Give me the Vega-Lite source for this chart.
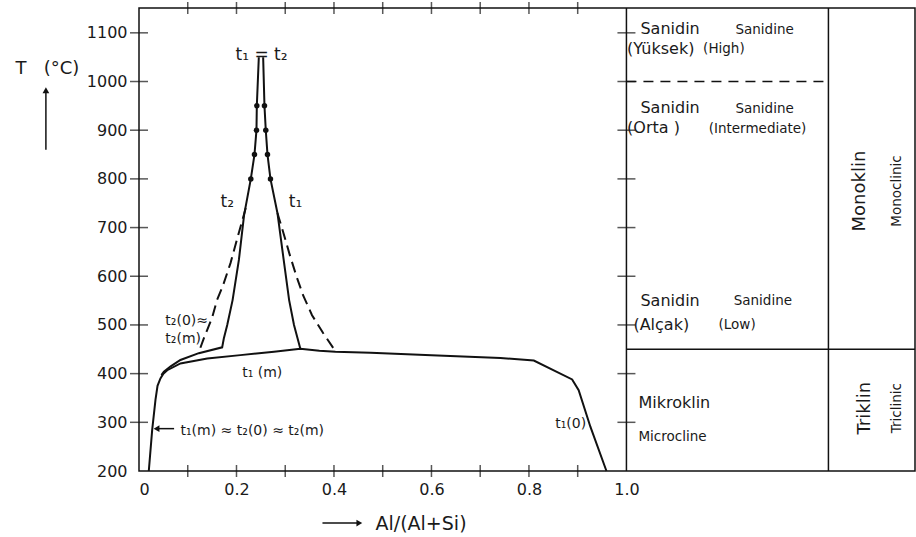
{
  "$schema": "https://vega.github.io/schema/vega-lite/v6.json",
  "width": 776,
  "height": 463,
  "autosize": {"type": "none"},
  "padding": {"left": 139, "top": 8, "right": 1, "bottom": 66},
  "background": "white",
  "config": {
    "view": {"stroke": "#111", "strokeWidth": 1.5},
    "font": "DejaVu Sans",
    "axis": {"grid": false, "ticks": false, "domain": false, "labelColor": "#1a1a1a", "titleColor": "#1a1a1a", "labelFont": "DejaVu Sans", "titleFont": "DejaVu Sans", "titleFontWeight": "normal"}
  },
  "datasets": {
    "frameSolid": [
      {"x": 1.0, "T": 200, "x2": 1.0, "T2": 1151},
      {"x": 1.4144, "T": 200, "x2": 1.4144, "T2": 1151},
      {"x": 1.0, "T": 450, "x2": 1.592, "T2": 450}
    ],
    "frameDashed": [
      {"x": 1.0, "T": 1000, "x2": 1.4144, "T2": 1000}
    ],
    "yTicks": [
      {"x": 0, "T": 300}, {"x": 0, "T": 400}, {"x": 0, "T": 500}, {"x": 0, "T": 600}, {"x": 0, "T": 700}, {"x": 0, "T": 800}, {"x": 0, "T": 900}, {"x": 0, "T": 1000}, {"x": 0, "T": 1100},
      {"x": 1, "T": 300}, {"x": 1, "T": 400}, {"x": 1, "T": 500}, {"x": 1, "T": 600}, {"x": 1, "T": 700}, {"x": 1, "T": 800}, {"x": 1, "T": 900}, {"x": 1, "T": 1000}, {"x": 1, "T": 1100}
    ],
    "xTicks": [
      {"x": 0.1, "T": 200}, {"x": 0.2, "T": 200}, {"x": 0.3, "T": 200}, {"x": 0.4, "T": 200}, {"x": 0.5, "T": 200}, {"x": 0.6, "T": 200}, {"x": 0.7, "T": 200}, {"x": 0.8, "T": 200}, {"x": 0.9, "T": 200},
      {"x": 0.1, "T": 1151}, {"x": 0.2, "T": 1151}, {"x": 0.3, "T": 1151}, {"x": 0.4, "T": 1151}, {"x": 0.5, "T": 1151}, {"x": 0.6, "T": 1151}, {"x": 0.7, "T": 1151}, {"x": 0.8, "T": 1151}, {"x": 0.9, "T": 1151}
    ],
    "solid": [
      {"s": "t2", "o": 1, "x": 0.2458, "T": 1050},
      {"s": "t2", "o": 2, "x": 0.2417, "T": 950},
      {"s": "t2", "o": 3, "x": 0.2410, "T": 900},
      {"s": "t2", "o": 4, "x": 0.2369, "T": 850},
      {"s": "t2", "o": 5, "x": 0.2294, "T": 800},
      {"s": "t2", "o": 6, "x": 0.2155, "T": 725},
      {"s": "t2", "o": 7, "x": 0.2050, "T": 634},
      {"s": "t2", "o": 8, "x": 0.1920, "T": 551},
      {"s": "t2", "o": 9, "x": 0.1810, "T": 500},
      {"s": "t2", "o": 10, "x": 0.1740, "T": 472},
      {"s": "t2", "o": 11, "x": 0.1706, "T": 454},
      {"s": "t2", "o": 12, "x": 0.1227, "T": 442},
      {"s": "t2", "o": 13, "x": 0.0850, "T": 428},
      {"s": "t2", "o": 14, "x": 0.0650, "T": 415},
      {"s": "t2", "o": 15, "x": 0.0510, "T": 404},
      {"s": "t2", "o": 16, "x": 0.0460, "T": 397},
      {"s": "t1", "o": 1, "x": 0.2547, "T": 1050},
      {"s": "t1", "o": 2, "x": 0.2574, "T": 950},
      {"s": "t1", "o": 3, "x": 0.2601, "T": 900},
      {"s": "t1", "o": 4, "x": 0.2636, "T": 850},
      {"s": "t1", "o": 5, "x": 0.2697, "T": 800},
      {"s": "t1", "o": 6, "x": 0.2840, "T": 730},
      {"s": "t1", "o": 7, "x": 0.2960, "T": 640},
      {"s": "t1", "o": 8, "x": 0.3080, "T": 551},
      {"s": "t1", "o": 9, "x": 0.3180, "T": 500},
      {"s": "t1", "o": 10, "x": 0.3310, "T": 451},
      {"s": "low", "o": 1, "x": 0.0201, "T": 200},
      {"s": "low", "o": 2, "x": 0.0270, "T": 284},
      {"s": "low", "o": 3, "x": 0.0338, "T": 346},
      {"s": "low", "o": 4, "x": 0.0380, "T": 375},
      {"s": "low", "o": 5, "x": 0.0440, "T": 390},
      {"s": "low", "o": 6, "x": 0.0500, "T": 400},
      {"s": "low", "o": 7, "x": 0.0580, "T": 407},
      {"s": "low", "o": 8, "x": 0.0850, "T": 421},
      {"s": "low", "o": 9, "x": 0.1400, "T": 431},
      {"s": "low", "o": 10, "x": 0.2080, "T": 438},
      {"s": "low", "o": 11, "x": 0.2770, "T": 445},
      {"s": "low", "o": 12, "x": 0.3310, "T": 451},
      {"s": "low", "o": 13, "x": 0.3700, "T": 447},
      {"s": "low", "o": 14, "x": 0.4030, "T": 445},
      {"s": "low", "o": 15, "x": 0.4750, "T": 443},
      {"s": "low", "o": 16, "x": 0.6000, "T": 438},
      {"s": "low", "o": 17, "x": 0.7415, "T": 432},
      {"s": "low", "o": 18, "x": 0.8100, "T": 427},
      {"s": "low", "o": 19, "x": 0.8886, "T": 388},
      {"s": "low", "o": 20, "x": 0.9020, "T": 366},
      {"s": "low", "o": 21, "x": 0.9260, "T": 291},
      {"s": "low", "o": 22, "x": 0.9590, "T": 200}
    ],
    "dashed": [
      {"s": "t2d", "o": 1, "x": 0.219, "T": 740},
      {"s": "t2d", "o": 2, "x": 0.205, "T": 690},
      {"s": "t2d", "o": 3, "x": 0.1877, "T": 627},
      {"s": "t2d", "o": 4, "x": 0.172, "T": 580},
      {"s": "t2d", "o": 5, "x": 0.160, "T": 551},
      {"s": "t2d", "o": 6, "x": 0.150, "T": 515},
      {"s": "t2d", "o": 7, "x": 0.140, "T": 490},
      {"s": "t2d", "o": 8, "x": 0.132, "T": 470},
      {"s": "t2d", "o": 9, "x": 0.123, "T": 445},
      {"s": "t1d", "o": 1, "x": 0.284, "T": 730},
      {"s": "t1d", "o": 2, "x": 0.296, "T": 690},
      {"s": "t1d", "o": 3, "x": 0.309, "T": 645},
      {"s": "t1d", "o": 4, "x": 0.323, "T": 600},
      {"s": "t1d", "o": 5, "x": 0.337, "T": 560},
      {"s": "t1d", "o": 6, "x": 0.355, "T": 520},
      {"s": "t1d", "o": 7, "x": 0.378, "T": 483},
      {"s": "t1d", "o": 8, "x": 0.403, "T": 446}
    ],
    "dots": [
      {"x": 0.2417, "T": 950}, {"x": 0.2410, "T": 900}, {"x": 0.2369, "T": 850}, {"x": 0.2294, "T": 800},
      {"x": 0.2574, "T": 950}, {"x": 0.2601, "T": 900}, {"x": 0.2636, "T": 850}, {"x": 0.2697, "T": 800}
    ],
    "arrowShafts": [
      {"x": -0.191, "T": 860, "x2": -0.191, "T2": 978},
      {"x": 0.036, "T": 287, "x2": 0.072, "T2": 287},
      {"x": 0.3764, "T": 93, "x2": 0.452, "T2": 93}
    ],
    "arrowHeads": [
      {"x": -0.191, "T": 982, "dir": "up"},
      {"x": 0.036, "T": 287, "dir": "left"},
      {"x": 0.452, "T": 93, "dir": "right"}
    ],
    "tLabels": [
      {"x": 0.2513, "T": 1055, "label": "t₁ = t₂"},
      {"x": 0.181, "T": 753, "label": "t₂"},
      {"x": 0.321, "T": 753, "label": "t₁"}
    ],
    "curveLabels": [
      {"x": 0.054, "T": 509, "label": "t₂(0)≈"},
      {"x": 0.054, "T": 471, "label": "t₂(m)"},
      {"x": 0.2117, "T": 402, "label": "t₁ (m)"},
      {"x": 0.0851, "T": 283, "label": "t₁(m) ≈ t₂(0) ≈ t₂(m)"},
      {"x": 0.854, "T": 297, "label": "t₁(0)"}
    ],
    "panelBig": [
      {"x": 1.0287, "T": 1107, "label": "Sanidin"},
      {"x": 1.0014, "T": 1067, "label": "(Yüksek)"},
      {"x": 1.0287, "T": 946, "label": "Sanidin"},
      {"x": 1.0014, "T": 904, "label": "(Orta )"},
      {"x": 1.0287, "T": 550, "label": "Sanidin"},
      {"x": 1.0143, "T": 499, "label": "(Alçak)"},
      {"x": 1.0246, "T": 340, "label": "Mikroklin"}
    ],
    "panelSmall": [
      {"x": 1.2236, "T": 1106, "label": "Sanidine"},
      {"x": 1.1573, "T": 1067, "label": "(High)"},
      {"x": 1.2236, "T": 944, "label": "Sanidine"},
      {"x": 1.1688, "T": 903, "label": "(Intermediate)"},
      {"x": 1.2200, "T": 549, "label": "Sanidine"},
      {"x": 1.1890, "T": 499, "label": "(Low)"},
      {"x": 1.0246, "T": 270, "label": "Microcline"}
    ],
    "verticalBig": [
      {"x": 1.480, "T": 775, "label": "Monoklin"},
      {"x": 1.490, "T": 329, "label": "Triklin"}
    ],
    "verticalSmall": [
      {"x": 1.555, "T": 775, "label": "Monoclinic"},
      {"x": 1.555, "T": 329, "label": "Triclinic"}
    ]
  },
  "encoding": {
    "x": {
      "field": "x",
      "type": "quantitative",
      "scale": {"domain": [0, 1.592], "nice": false, "zero": false},
      "axis": {
        "orient": "bottom",
        "values": [0, 0.2, 0.4, 0.6, 0.8, 1.0],
        "labelExpr": "datum.value == 0 ? '0' : format(datum.value, '.1f')",
        "labelFontSize": 16,
        "labelPadding": 10,
        "title": "Al/(Al+Si)",
        "titleFontSize": 19,
        "titleX": 236,
        "titleY": 52,
        "titleAlign": "left",
        "titleBaseline": "middle",
        "titleAnchor": "start"
      }
    },
    "y": {
      "field": "T",
      "type": "quantitative",
      "scale": {"domain": [200, 1151], "nice": false, "zero": false},
      "axis": {
        "values": [200, 300, 400, 500, 600, 700, 800, 900, 1000, 1100],
        "format": "d",
        "labelFontSize": 16,
        "labelPadding": 12,
        "title": "T\u00a0\u00a0\u00a0(°C)",
        "titleFontSize": 18,
        "titleAngle": 0,
        "titleX": -124,
        "titleY": 60,
        "titleAlign": "left",
        "titleBaseline": "middle",
        "titleAnchor": "start"
      }
    }
  },
  "layer": [
    {
      "data": {"name": "frameSolid"},
      "mark": {"type": "rule", "strokeWidth": 1.5, "color": "#111"},
      "encoding": {"x2": {"field": "x2"}, "y2": {"field": "T2"}}
    },
    {
      "data": {"name": "frameDashed"},
      "mark": {"type": "rule", "strokeWidth": 1.5, "color": "#111", "strokeDash": [10, 7]},
      "encoding": {"x2": {"field": "x2"}, "y2": {"field": "T2"}}
    },
    {
      "data": {"name": "yTicks"},
      "mark": {"type": "tick", "orient": "horizontal", "size": 18, "thickness": 1.5, "color": "#111"}
    },
    {
      "data": {"name": "xTicks"},
      "mark": {"type": "tick", "orient": "vertical", "size": 12, "thickness": 1.5, "color": "#111"}
    },
    {
      "data": {"name": "solid"},
      "mark": {"type": "line", "strokeWidth": 2, "color": "#111"},
      "encoding": {"detail": {"field": "s", "type": "nominal"}, "order": {"field": "o", "type": "quantitative"}}
    },
    {
      "data": {"name": "dashed"},
      "mark": {"type": "line", "strokeWidth": 2, "color": "#111", "strokeDash": [11, 6]},
      "encoding": {"detail": {"field": "s", "type": "nominal"}, "order": {"field": "o", "type": "quantitative"}}
    },
    {
      "data": {"name": "dots"},
      "mark": {"type": "point", "filled": true, "size": 30, "color": "#111", "opacity": 1}
    },
    {
      "data": {"name": "arrowShafts"},
      "mark": {"type": "rule", "strokeWidth": 1.5, "color": "#111"},
      "encoding": {"x2": {"field": "x2"}, "y2": {"field": "T2"}}
    },
    {
      "data": {"name": "arrowHeads"},
      "mark": {"type": "point", "filled": true, "size": 45, "color": "#111", "opacity": 1},
      "encoding": {
        "shape": {"field": "dir", "type": "nominal", "scale": {"domain": ["up", "left", "right"], "range": ["triangle-up", "triangle-left", "triangle-right"]}, "legend": null}
      }
    },
    {
      "data": {"name": "tLabels"},
      "mark": {"type": "text", "fontSize": 17, "align": "center", "baseline": "middle", "color": "#1a1a1a"},
      "encoding": {"text": {"field": "label"}}
    },
    {
      "data": {"name": "curveLabels"},
      "mark": {"type": "text", "fontSize": 14, "align": "left", "baseline": "middle", "color": "#1a1a1a"},
      "encoding": {"text": {"field": "label"}}
    },
    {
      "data": {"name": "panelBig"},
      "mark": {"type": "text", "fontSize": 16, "align": "left", "baseline": "middle", "color": "#1a1a1a"},
      "encoding": {"text": {"field": "label"}}
    },
    {
      "data": {"name": "panelSmall"},
      "mark": {"type": "text", "fontSize": 13.5, "align": "left", "baseline": "middle", "color": "#1a1a1a"},
      "encoding": {"text": {"field": "label"}}
    },
    {
      "data": {"name": "verticalBig"},
      "mark": {"type": "text", "fontSize": 18, "angle": 270, "align": "center", "baseline": "middle", "color": "#1a1a1a"},
      "encoding": {"text": {"field": "label"}}
    },
    {
      "data": {"name": "verticalSmall"},
      "mark": {"type": "text", "fontSize": 13.5, "angle": 270, "align": "center", "baseline": "middle", "color": "#1a1a1a"},
      "encoding": {"text": {"field": "label"}}
    }
  ]
}
